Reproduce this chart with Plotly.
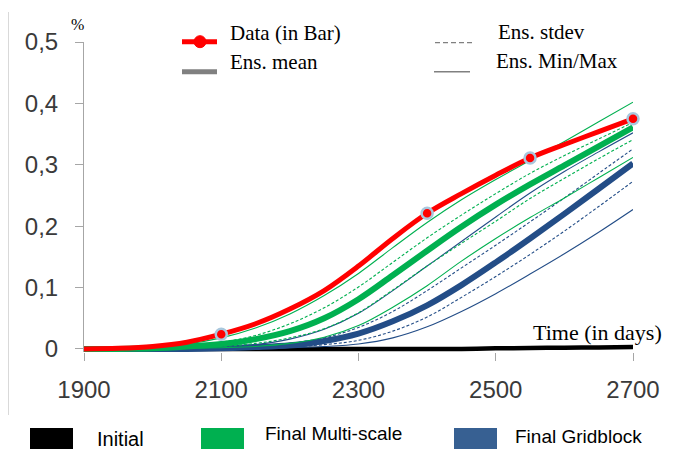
import plotly.graph_objects as go

# ---------------- data ----------------
days = [1900, 1950, 2000, 2050, 2100, 2150, 2200, 2250, 2300, 2350,
        2400, 2450, 2500, 2550, 2600, 2650, 2700]

data_curve = [0, 0.001, 0.004, 0.011, 0.024, 0.041, 0.065, 0.095, 0.135, 0.180,
              0.221, 0.253, 0.283, 0.311, 0.333, 0.354, 0.375]
data_days = [2100, 2400, 2550, 2700]
data_vals = [0.024, 0.221, 0.311, 0.375]

ms_mean = [0, 0, 0.001, 0.004, 0.008, 0.016, 0.029, 0.050, 0.081, 0.120,
           0.160, 0.199, 0.235, 0.268, 0.299, 0.330, 0.361]
ms_max = [0, 0.001, 0.003, 0.008, 0.018, 0.034, 0.057, 0.087, 0.123, 0.165,
          0.206, 0.243, 0.276, 0.307, 0.338, 0.370, 0.402]
ms_sd_up = [0, 0.0005, 0.002, 0.005, 0.011, 0.022, 0.041, 0.067, 0.101, 0.141,
            0.181, 0.218, 0.253, 0.286, 0.315, 0.342, 0.369]
ms_sd_lo = [0, 0, 0.0005, 0.002, 0.004, 0.009, 0.018, 0.033, 0.059, 0.096,
            0.135, 0.172, 0.208, 0.245, 0.278, 0.310, 0.341]
ms_min = [0, 0, 0, 0.001, 0.002, 0.004, 0.009, 0.019, 0.038, 0.068,
          0.103, 0.143, 0.180, 0.214, 0.246, 0.279, 0.312]

gb_mean = [0, 0, 0, 0, 0.001, 0.003, 0.006, 0.013, 0.025, 0.045,
           0.071, 0.104, 0.141, 0.180, 0.220, 0.261, 0.302]
gb_max = [0, 0, 0, 0.001, 0.003, 0.007, 0.016, 0.032, 0.058, 0.095,
          0.135, 0.175, 0.215, 0.254, 0.289, 0.321, 0.352]
gb_sd_up = [0, 0, 0, 0.0005, 0.002, 0.004, 0.009, 0.018, 0.035, 0.061,
            0.095, 0.132, 0.169, 0.207, 0.246, 0.286, 0.326]
gb_sd_lo = [0, 0, 0, 0, 0.0005, 0.001, 0.003, 0.007, 0.014, 0.029,
            0.052, 0.084, 0.118, 0.154, 0.192, 0.232, 0.273]
gb_min = [0, 0, 0, 0, 0, 0.0005, 0.002, 0.004, 0.008, 0.018,
          0.036, 0.061, 0.090, 0.122, 0.155, 0.190, 0.227]

initial = [0, 0, 0, 0, 0, 0, 0, 0, 0, 0,
           0, 0, 0.001, 0.0015, 0.002, 0.0025, 0.003]

y_ticks = [0, 0.1, 0.2, 0.3, 0.4, 0.5]
y_ticktext = ["0", "0,1", "0,2", "0,3", "0,4", "0,5"]
x_ticks = [1900, 2100, 2300, 2500, 2700]

# ---------------- styling ----------------
RED = "#FF0000"
GREEN = "#00B050"
BLUE = "#234D87"
BLUE_BOX = "#376092"
GRAY = "#808080"
AXIS = "#A6A6A6"
SERIF = "Liberation Serif, Times New Roman, serif"
SANS = "Liberation Sans, Arial, sans-serif"

W, H = 676, 449
L, R, T, B = 84, 633, 42, 352  # plot area in px


def px(x):
    return (x - L) / (R - L)


def py(y):
    return (B - y) / (B - T)


fig = go.Figure()


def line(y, color, width, dash="solid"):
    fig.add_trace(go.Scatter(
        x=days, y=y, mode="lines",
        line=dict(color=color, width=width, dash=dash, shape="spline", smoothing=1.0),
        showlegend=False, hoverinfo="skip"))


line(initial, "#000000", 4.5)
for s in (gb_min, gb_max):
    line(s, BLUE, 1.1)
for s in (gb_sd_lo, gb_sd_up):
    line(s, BLUE, 1.1, "3px,2px")
line(gb_mean, BLUE, 6)
for s in (ms_min, ms_max):
    line(s, GREEN, 1.1)
for s in (ms_sd_lo, ms_sd_up):
    line(s, GREEN, 1.1, "3px,2px")
line(ms_mean, GREEN, 6)
line(data_curve, RED, 5)

fig.add_trace(go.Scatter(
    x=data_days, y=data_vals, mode="markers",
    marker=dict(color=RED, size=11, line=dict(color="#A9C7DD", width=2.5)),
    showlegend=False, hoverinfo="skip", cliponaxis=False))

shapes = []
# left border line
shapes.append(dict(type="line", xref="paper", yref="paper",
                   x0=px(8.5), x1=px(8.5), y0=py(12), y1=py(415),
                   line=dict(color="#D9D9D9", width=1)))
# top legend symbols
shapes.append(dict(type="line", xref="paper", yref="paper",
                   x0=px(182), x1=px(217), y0=py(41.7), y1=py(41.7),
                   line=dict(color=RED, width=5)))
shapes.append(dict(type="circle", xref="paper", yref="paper",
                   x0=px(194), x1=px(206), y0=py(47.7), y1=py(35.7),
                   fillcolor=RED, line=dict(color=RED, width=1)))
shapes.append(dict(type="line", xref="paper", yref="paper",
                   x0=px(182), x1=px(217), y0=py(71.7), y1=py(71.7),
                   line=dict(color=GRAY, width=5)))
shapes.append(dict(type="line", xref="paper", yref="paper",
                   x0=px(435), x1=px(472), y0=py(42.7), y1=py(42.7),
                   line=dict(color=GRAY, width=1.3, dash="5px,3px")))
shapes.append(dict(type="line", xref="paper", yref="paper",
                   x0=px(434), x1=px(470), y0=py(71.7), y1=py(71.7),
                   line=dict(color=GRAY, width=1.5)))
# bottom legend boxes
for x0, col in ((30, "#000000"), (201, GREEN), (454, BLUE_BOX)):
    shapes.append(dict(type="rect", xref="paper", yref="paper",
                       x0=px(x0), x1=px(x0 + 43), y0=py(428), y1=py(449),
                       fillcolor=col, line=dict(width=0)))

annotations = []


def text(s, x, y, font, size, color="#000000", anchor="left"):
    annotations.append(dict(text=s, xref="paper", yref="paper",
                            x=px(x), y=py(y), xanchor=anchor, yanchor="middle",
                            showarrow=False, borderpad=0,
                            font=dict(family=font, size=size, color=color)))


text("%", 77.5, 25, SERIF, 16, anchor="center")
text("Data (in Bar)", 229, 33, SERIF, 21)
text("Ens. mean", 229, 62, SERIF, 21)
text("Ens. stdev", 497, 32, SERIF, 21)
text("Ens. Min/Max", 495, 61, SERIF, 21)
text("Time (in days)", 532, 332, SERIF, 22)
text("Initial", 96, 439, SANS, 20)
text("Final Multi-scale", 264, 433, SANS, 19)
text("Final Gridblock", 514, 436, SANS, 19)

fig.update_layout(
    width=W, height=H,
    margin=dict(l=L, r=W - R, t=T, b=H - B, pad=0),
    paper_bgcolor="white", plot_bgcolor="white",
    shapes=shapes, annotations=annotations,
    xaxis=dict(range=[1900, 2700], tickvals=x_ticks, ticks="outside", ticklen=8,
               tickcolor=AXIS, showline=False, showgrid=False, zeroline=False,
               ticklabelstandoff=8,
               tickfont=dict(family=SANS, size=24, color="#3A3A3A")),
    yaxis=dict(range=[-0.005, 0.5], tickvals=y_ticks, ticktext=y_ticktext,
               ticks="outside", ticklen=8, tickcolor=AXIS, showline=True,
               linecolor=AXIS, linewidth=1, showgrid=False,
               zeroline=True, zerolinecolor=AXIS, zerolinewidth=1,
               ticklabelstandoff=12,
               tickfont=dict(family=SANS, size=24, color="#3A3A3A")),
)

fig.write_html("out.html")
